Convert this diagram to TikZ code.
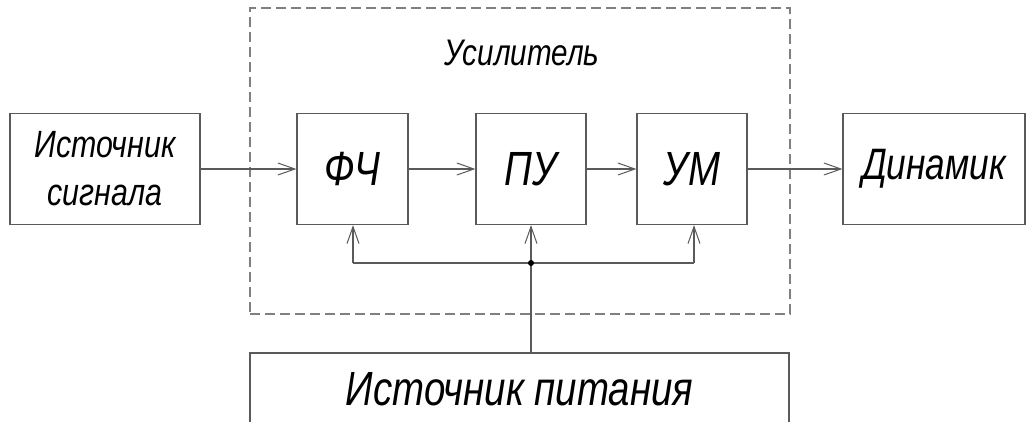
\documentclass[tikz,border=0pt]{standalone}
\usepackage{fontspec}
\newfontfamily\gost{Liberation Sans}[FakeStretch=0.8]
\usetikzlibrary{arrows.meta}
\definecolor{ln}{HTML}{5A5A5A}
\definecolor{dsh}{HTML}{808080}
\tikzset{
  blk/.style={draw=ln, line width=1.2pt, rectangle, inner sep=0pt, font=\gost\itshape},
  conn/.style={draw=ln, line width=1.2pt, -{Straight Barb[length=17pt,width=12pt,line width=1pt]}},
  plain/.style={draw=ln, line width=1.2pt},
}
\begin{document}
\begin{tikzpicture}[x=1pt,y=-1pt]
\clip (0,0) rectangle (1027,421);
\fill[white] (0,0) rectangle (1027,421);
% amplifier dashed frame
\node[draw=dsh, line width=1.5pt, dash pattern=on 10pt off 5pt, rectangle, inner sep=0pt,
      minimum width=540pt, minimum height=306pt] (amp) at (520,161) {};
\node[font=\gost\itshape\fontsize{37}{40}\selectfont] (title) at (522,53) {Усилитель};
% blocks
\node[blk, minimum width=190pt, minimum height=111pt, align=center,
      font=\gost\itshape\fontsize{38}{50}\selectfont] (src) at (105,169) {Источник\\[-2pt]сигнала};
\node[blk, minimum width=111pt, minimum height=111pt, font=\gost\itshape\fontsize{48}{50}\selectfont] (fch) at (352.5,169) {ФЧ};
\node[blk, minimum width=110pt, minimum height=111pt, font=\gost\itshape\fontsize{48}{50}\selectfont] (pu) at (531,169) {ПУ};
\node[blk, minimum width=110pt, minimum height=111pt, font=\gost\itshape\fontsize{48}{50}\selectfont] (um) at (692,169) {УМ};
\node[blk, minimum width=182pt, minimum height=111pt, font=\gost\itshape\fontsize{44}{50}\selectfont] (dyn) at (934,169) {Динамик};
\node[blk, minimum width=539pt, minimum height=72pt, font=\gost\itshape\fontsize{48}{50}\selectfont] (pwr) at (519.5,389) {Источник питания};
% signal path
\draw[conn] (src.east) -- (fch.west);
\draw[conn] (fch.east) -- (pu.west);
\draw[conn] (pu.east) -- (um.west);
\draw[conn] (um.east) -- (dyn.west);
% power bus
\coordinate (j) at (531,263);
\coordinate (jl) at (353,263);
\coordinate (jr) at (694,263);
\draw[plain] (pwr.north -| j) -- (j);
\draw[conn] (j) -- (pu.south);
\draw[plain] (j) -- (jl);
\draw[conn] (jl) -- (jl |- fch.south);
\draw[plain] (j) -- (jr);
\draw[conn] (jr) -- (jr |- um.south);
\fill[black] (j) circle (3pt);
\end{tikzpicture}
\end{document}
